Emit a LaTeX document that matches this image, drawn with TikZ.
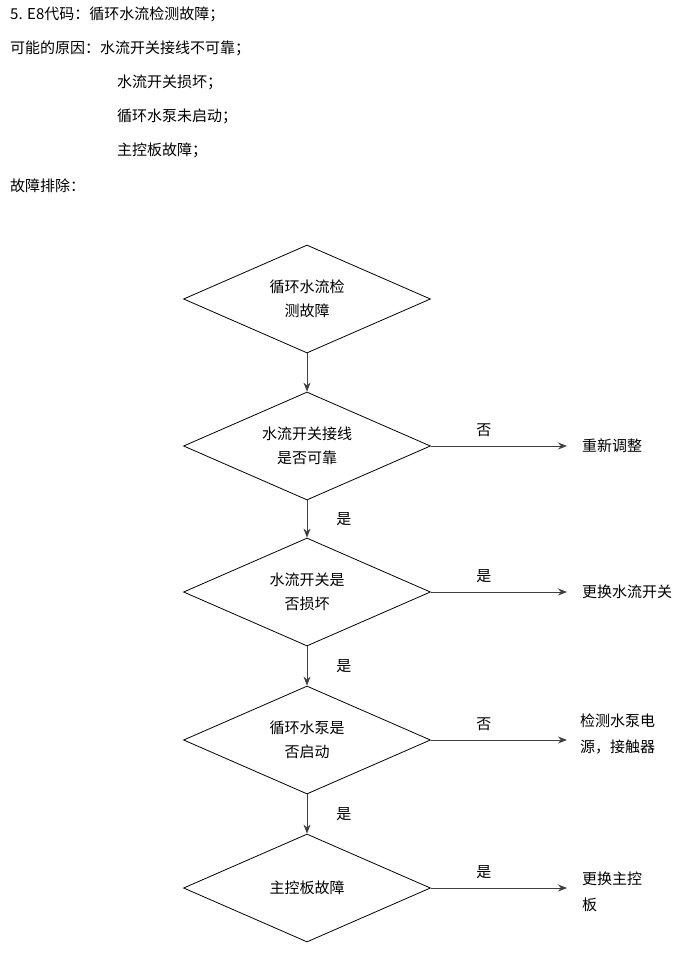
\documentclass[tikz,border=0pt]{standalone}
\usepackage{fontspec}
\newfontfamily\cjk{Noto Sans CJK SC}
\usetikzlibrary{arrows.meta, shapes.geometric, positioning}
\tikzset{
    decision/.style = {draw, diamond, aspect=2.3, minimum width=247pt, minimum height=108pt,
      inner sep=0pt, align=center, font=\cjk\fontsize{15}{24}\selectfont, line width=0.8pt},
    textnode/.style = {draw=none, inner sep=0pt, anchor=west, align=left,
      font=\cjk\fontsize{15}{26}\selectfont},
    labelnode/.style = {draw=none, inner sep=1pt, font=\cjk\fontsize{15}{18}\selectfont},
    connect/.style = {draw=black!75, line width=0.8pt, -{Stealth[length=9pt,width=7pt]}}
}
\begin{document}
\begin{tikzpicture}[x=1pt, y=-1pt]
    \useasboundingbox (0,0) rectangle (700,956);

    % header
    \node [textnode] (head) at (10,14) {5. E8代码：循环水流检测故障；};
    \node [textnode] (cause) at (10,48) {可能的原因：水流开关接线不可靠；};
    \node [textnode] (cause2) at (117,82) {水流开关损坏；};
    \node [textnode] (cause3) at (117,116) {循环水泵未启动；};
    \node [textnode] (cause4) at (117,150) {主控板故障；};
    \node [textnode] (fix) at (10,186) {故障排除：};

    % flow
    \node [decision] (d1) at (307,299) {循环水流检\\测故障};
    \node [decision] (d2) at (307,446) {水流开关接线\\是否可靠};
    \node [decision] (d3) at (307,592) {水流开关是\\否损坏};
    \node [decision] (d4) at (307,740) {循环水泵是\\否启动};
    \node [decision] (d5) at (307,888) {主控板故障};

    \node [textnode] (r2) at (582,446) {重新调整};
    \node [textnode] (r3) at (582,592) {更换水流开关};
    \node [textnode] (r4) at (580,734) {检测水泵电\\源，接触器};
    \node [textnode] (r5) at (582,892) {更换主控\\板};

    \draw [connect] (d1.south) -- (d2.north);
    \draw [connect] (d2.south) -- node[labelnode, right=28pt] {是} (d3.north);
    \draw [connect] (d3.south) -- node[labelnode, right=28pt] {是} (d4.north);
    \draw [connect] (d4.south) -- node[labelnode, right=28pt] {是} (d5.north);

    \draw [connect] (d2.east) -- node[labelnode, above=8pt, xshift=-15pt] {否} (r2.west -| 567,0);
    \draw [connect] (d3.east) -- node[labelnode, above=8pt, xshift=-15pt] {是} (r3.west -| 567,0);
    \draw [connect] (d4.east) -- node[labelnode, above=8pt, xshift=-15pt] {否} (d4.east -| 567,0);
    \draw [connect] (d5.east) -- node[labelnode, above=8pt, xshift=-15pt] {是} (d5.east -| 567,0);
\end{tikzpicture}
\end{document}
